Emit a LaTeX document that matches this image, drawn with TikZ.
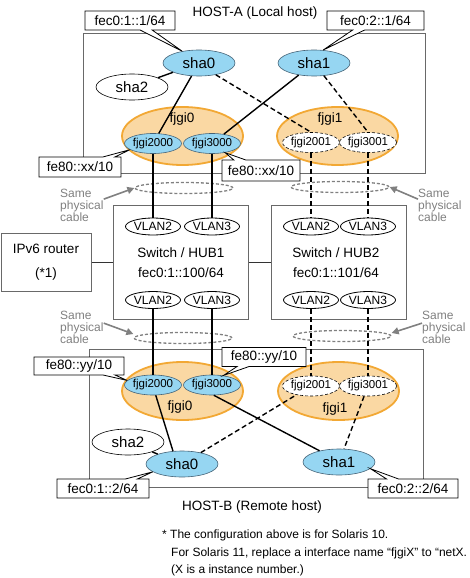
\documentclass[tikz,border=0pt]{standalone}
\usepackage{fontspec}
\setmainfont{Liberation Sans}
\usetikzlibrary{shapes.geometric,shapes.callouts,arrows.meta}

\definecolor{ifblue}{RGB}{150,214,242}
\definecolor{ifedge}{RGB}{70,100,120}
\definecolor{grpfill}{RGB}{250,216,163}
\definecolor{grpedge}{RGB}{242,168,52}
\definecolor{framegray}{RGB}{105,105,105}
\definecolor{notegray}{RGB}{128,128,128}

\tikzset{
  hostbox/.style={draw=framegray,line width=1pt},
  hosttxt/.style={font=\fontsize{13.5}{16}\selectfont,inner sep=0pt},
  hubbox/.style={draw=framegray,line width=1pt,minimum width=135pt,minimum height=114pt,inner sep=0pt},
  hubtxt/.style={align=center,font=\fontsize{13.5}{20}\selectfont,inner sep=0pt},
  routerbox/.style={draw=framegray,line width=1pt,minimum width=90pt,minimum height=58pt,align=center,font=\fontsize{13.5}{24}\selectfont},
  wire/.style={draw=black!80,line width=0.9pt},
  grp/.style={ellipse,draw=grpedge,fill=grpfill,line width=1.8pt,minimum width=121pt,minimum height=58pt,inner sep=0pt},
  grptxt/.style={font=\fontsize{13.5}{16}\selectfont,inner sep=0pt},
  ifnode/.style={ellipse,draw=ifedge,fill=ifblue,line width=0.6pt,minimum width=56pt,minimum height=20pt,inner sep=0pt,font=\fontsize{11.5}{13}\selectfont},
  ifdash/.style={ifnode,draw=black,fill=white,dash pattern=on 3pt off 2pt},
  shanode/.style={ellipse,draw=ifedge,fill=ifblue,line width=0.6pt,minimum width=72pt,minimum height=26pt,inner sep=0pt,font=\fontsize{15}{18}\selectfont},
  virt/.style={shanode,draw=black,fill=white},
  vlan/.style={ellipse,draw=black,fill=white,line width=0.8pt,minimum width=55pt,minimum height=17pt,inner sep=0pt,font=\fontsize{12}{14}\selectfont},
  cable/.style={ellipse,draw=notegray,dash pattern=on 3pt off 2pt,line width=1.3pt,minimum width=98pt,minimum height=11pt,inner sep=0pt},
  link/.style={draw=black,line width=1.4pt},
  dlink/.style={link,dash pattern=on 5pt off 3pt},
  grayarr/.style={draw=notegray,line width=1.6pt,-{Triangle[length=7pt,width=7pt]}},
  note/.style={text=notegray,font=\fontsize{12}{12}\selectfont,align=left,inner sep=0pt,anchor=west},
  foot/.style={font=\fontsize{12}{14}\selectfont,inner sep=0pt,anchor=west},
  callbox/.style={rectangle callout,draw=black,fill=white,line width=0.8pt,inner sep=0pt,
    minimum height=19pt,callout pointer width=12pt,font=\fontsize{13.5}{16}\selectfont},
}

\begin{document}
\begin{tikzpicture}[x=1pt,y=-1pt]
\useasboundingbox (0,0) rectangle (469,578);

% hosts
\draw[hostbox] (83,34) rectangle (425,173); % HOST-A
\draw[hostbox] (89,349) rectangle (423,487); % HOST-B
\node[hosttxt] (hosta) at (255,13) {HOST-A (Local host)};
\node[hosttxt] (hostb) at (252,507) {HOST-B (Remote host)};

% switches and router
\node[hubbox] (hub1) at (181,262) {};
\node[hubbox] (hub2) at (339,262) {};
\node[hubtxt] (hub1txt) at (181,263) {Switch / HUB1\\fec0:1::100/64};
\node[hubtxt] (hub2txt) at (336,263) {Switch / HUB2\\fec0:1::101/64};
\node[routerbox] (router) at (46,262) {IPv6 router\\(*1)};
\draw[wire] (router) -- (hub1);
\draw[wire] (hub1) -- (hub2);
\foreach \n/\x/\v in {vl2a/153/2,vl3a/212/3,vl2b/311/2,vl3b/368/3}
  \node[vlan] (\n) at (\x,226.5) {VLAN\v};
\foreach \n/\x/\v in {vl2c/153/2,vl3c/212/3,vl2d/311/2,vl3d/368/3}
  \node[vlan] (\n) at (\x,300) {VLAN\v};

% HOST-A interfaces
\node[grp] (grp0a) at (182.5,136) {};
\node[grp] (grp1a) at (337.5,136) {};
\node[grptxt] (g0alabel) at (182,119) {fjgi0};
\node[grptxt] (g1alabel) at (330,119) {fjgi1};
\node[ifnode] (fj2000a) at (153,143.5) {fjgi2000};
\node[ifnode] (fj3000a) at (212,143.5) {fjgi3000};
\node[ifdash] (fj2001a) at (311,142.5) {fjgi2001};
\node[ifdash] (fj3001a) at (368,142.5) {fjgi3001};
\node[shanode] (sha0a) at (199,63) {sha0};
\node[shanode] (sha1a) at (314,63) {sha1};
\node[virt] (sha2a) at (132,87) {sha2};

% HOST-B interfaces
\node[grp] (grp0b) at (182.5,391) {};
\node[grp] (grp1b) at (338.5,391) {};
\node[grptxt] (g0blabel) at (180,407) {fjgi0};
\node[grptxt] (g1blabel) at (335,409) {fjgi1};
\node[ifnode] (fj2000b) at (153,385) {fjgi2000};
\node[ifnode] (fj3000b) at (212,385) {fjgi3000};
\node[ifdash] (fj2001b) at (311,386) {fjgi2001};
\node[ifdash] (fj3001b) at (368,386) {fjgi3001};
\node[shanode] (sha0b) at (182,464) {sha0};
\node[shanode] (sha1b) at (339,462) {sha1};
\node[virt] (sha2b) at (128,442) {sha2};

% same physical cable
\node[cable] (cabla) at (184,188) {};
\node[cable] (cablb) at (340,187) {};
\node[cable] (cablc) at (183,338) {};
\node[cable] (cabld) at (342,336) {};

% links
\draw[link] (sha0a) -- (sha2a);
\draw[link] (sha0a) -- (fj2000a);
\draw[link] (sha1a) -- (fj3000a);
\draw[dlink] (sha0a.-35) -- (fj2001a.north);
\draw[dlink] (sha1a) -- (fj3001a.north);
\draw[link] (fj2000a) -- (vl2a);
\draw[link] (fj3000a) -- (vl3a);
\draw[dlink] (fj2001a) -- (vl2b);
\draw[dlink] (fj3001a) -- (vl3b);
\draw[link] (vl2c) -- (fj2000b);
\draw[link] (vl3c) -- (fj3000b);
\draw[dlink] (vl2d) -- (fj2001b);
\draw[dlink] (vl3d) -- (fj3001b);
\draw[link] (sha0b) -- (sha2b);
\draw[link] (fj2000b.-75) -- (sha0b.125);
\draw[link] (fj3000b.-80) -- (sha1b.150);
\draw[dlink] (sha0b) -- (fj2001b);
\draw[dlink] (fj3001b) -- (sha1b);

% addresses
\node[callbox,minimum width=90pt,callout absolute pointer={(sha0a.145)}] (ip1a) at (130,20.5) {fec0:1::1/64};
\node[callbox,minimum width=97pt,callout absolute pointer={(sha1a.55)}] (ip2a) at (375.5,20.5) {fec0:2::1/64};
\node[callbox,minimum width=82pt,minimum height=20pt,callout absolute pointer={(fj2000a.195)}] (llxa) at (80,167) {fe80::xx/10};
\node[callbox,minimum width=78pt,minimum height=21pt,callout absolute pointer={(fj3000a.325)}] (llxb) at (261,170.5) {fe80::xx/10};
\node[callbox,minimum width=90pt,minimum height=18pt,callout absolute pointer={(fj2000b.170)}] (llya) at (79,366) {fe80::yy/10};
\node[callbox,minimum width=84pt,callout absolute pointer={(fj3000b.40)}] (llyb) at (264,357) {fe80::yy/10};
\node[callbox,minimum width=92pt,callout absolute pointer={(sha0b.195)}] (ip1b) at (103,488.5) {fec0:1::2/64};
\node[callbox,minimum width=90pt,callout absolute pointer={(sha1b.348)}] (ip2b) at (413,488.5) {fec0:2::2/64};

% notes
\node[note] (samea) at (60,205) {Same\\physical\\cable};
\node[note] (sameb) at (418,205) {Same\\physical\\cable};
\node[note] (samec) at (60,327) {Same\\physical\\cable};
\node[note] (samed) at (422,327) {Same\\physical\\cable};
\coordinate (tipc) at ([yshift=4pt]cablc.west);
\coordinate (tipd) at ([yshift=3pt]cabld.east);
\draw[grayarr] (samea.15) -- (cabla.west);
\draw[grayarr] (sameb.165) -- (cablb.east);
\draw[grayarr] (samec.10) -- (tipc);
\draw[grayarr] (samed.170) -- (tipd);

\node[foot] (note1) at (162,535) {* The configuration above is for Solaris 10.};
\node[foot] (note2) at (171,553) {For Solaris 11, replace a interface name “fjgiX” to “netX.};
\node[foot] (note3) at (171,570) {(X is a instance number.)};
\end{tikzpicture}
\end{document}
